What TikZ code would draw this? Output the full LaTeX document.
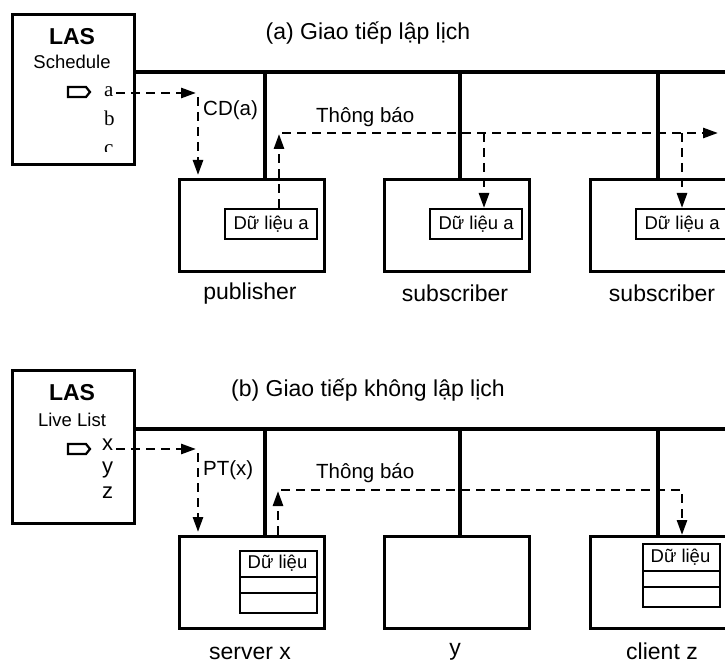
\documentclass[tikz,border=0pt]{standalone}
\usepackage{fontspec}
\setmainfont{Liberation Sans}
\newfontfamily\seriffont{Liberation Serif}
\usetikzlibrary{arrows.meta}
\begin{document}
\begin{tikzpicture}[x=1pt,y=-1pt,
  bigbox/.style={draw, line width=2.8pt, inner sep=0pt, anchor=north west, minimum width=145pt, minimum height=92pt},
  lasbox/.style={draw, line width=2.8pt, inner sep=0pt, anchor=north west, minimum width=122pt},
  databox/.style={draw, line width=2.2pt, inner sep=0pt, anchor=north west, minimum width=92pt, minimum height=30pt, font=\fontsize{18.5}{20}\selectfont},
  tbl/.style={draw, line width=2.2pt, inner sep=0pt, anchor=north west, minimum width=77pt},
  bus/.style={line width=4pt},
  stem/.style={line width=3.8pt},
  dline/.style={line width=2.7pt, dash pattern=on 9pt off 6pt, -{Triangle[length=15pt,width=10pt]}},
  lbl/.style={font=\fontsize{23}{26}\selectfont, inner sep=0pt, anchor=base},
  small/.style={font=\fontsize{20.5}{23}\selectfont, inner sep=0pt},
  tagsh/.style={line width=2.2pt},
]
\useasboundingbox (0,0) rectangle (725,663);
\fill[white] (0,0) rectangle (725,663);

% ===== (a) =====
\node[font=\fontsize{23}{26}\selectfont, inner sep=0pt] (ta) at (368,33) {(a) Giao tiếp lập lịch};
\node[lasbox, minimum height=150pt] (las1) at (11,13) {};
\node[inner sep=0pt, font=\bfseries\fontsize{23}{26}\selectfont] (las1t) at (72,37) {LAS};
\node[inner sep=0pt, font=\fontsize{18.5}{20}\selectfont] (sch) at (72,62) {Schedule};
\draw[tagsh] (68,87) -- (86,87) -- (90,92) -- (86,97) -- (68,97) -- cycle;
\node[inner sep=0pt, anchor=base west, font=\seriffont\fontsize{21}{23}\selectfont] (na) at (104,97) {a};
\node[inner sep=0pt, anchor=base west, font=\seriffont\fontsize{21}{23}\selectfont] (nb) at (104,126) {b};
\begin{scope}
  \clip (90,130) rectangle (130,152);
  \node[inner sep=0pt, anchor=base west, font=\seriffont\fontsize{21}{23}\selectfont] (nc) at (104,155) {c};
\end{scope}

\coordinate (busa0) at (133,72);
\coordinate (busa1) at (730,72);
\draw[bus] (busa0) -- (busa1);

\node[bigbox] (pub) at (178,178) {};
\node[bigbox] (sub1) at (383,178) {};
\node[bigbox] (sub2) at (589,178) {};

\coordinate (va1) at (265,72);
\coordinate (va2) at (460,72);
\coordinate (va3) at (658,72);
\draw[stem] (va1) -- (va1 |- pub.north);
\draw[stem] (va2) -- (va2 |- sub1.north);
\draw[stem] (va3) -- (va3 |- sub2.north);

\node[databox] (d1) at (224,208) {Dữ liệu a};
\node[databox] (d2) at (429,208) {Dữ liệu a};
\node[databox] (d3) at (635,208) {Dữ liệu a};

\node[lbl] (lpub) at (250,299) {publisher};
\node[lbl] (lsub1) at (455,301) {subscriber};
\node[lbl] (lsub2) at (662,301) {subscriber};

% CD(a) request
\coordinate (ca1) at (116,93);
\coordinate (ca2) at (196,93);
\draw[dline] (ca1) -- (ca2);
\coordinate (ca3) at (198,97);
\coordinate (ca4) at (198,175);
\draw[dline] (ca3) -- (ca4);
\node[small, anchor=west] (cd) at (203,110) {CD(a)};

% Thong bao (a)
\coordinate (ua) at (279,134);
\draw[dline] (d1.north -| ua) -- (ua);
\coordinate (ha0) at (282,133);
\coordinate (ha1) at (718,133);
\draw[dline] (ha0) -- (ha1);
\coordinate (ba2) at (484,133);
\coordinate (ba3) at (682,133);
\draw[dline] (ba2) -- (ba2 |- d2.north);
\draw[dline] (ba3) -- (ba3 |- d3.north);
\node[small, anchor=west] (tba) at (316,117) {Thông báo};

% ===== (b) =====
\node[font=\fontsize{23}{26}\selectfont, inner sep=0pt] (tb) at (368,390) {(b) Giao tiếp không lập lịch};
\node[lasbox, minimum height=153pt] (las2) at (11,369) {};
\node[inner sep=0pt, font=\bfseries\fontsize{23}{26}\selectfont] (las2t) at (72,393) {LAS};
\node[inner sep=0pt, font=\fontsize{18.5}{20}\selectfont] (live) at (72,420) {Live List};
\draw[tagsh] (68,444) -- (86,444) -- (90,449) -- (86,454) -- (68,454) -- cycle;
\node[inner sep=0pt, anchor=base west, font=\fontsize{22}{24}\selectfont] (nx) at (102,450) {x};
\node[inner sep=0pt, anchor=base west, font=\fontsize{22}{24}\selectfont] (ny) at (102,473) {y};
\node[inner sep=0pt, anchor=base west, font=\fontsize{22}{24}\selectfont] (nz) at (102,498) {z};

\coordinate (busb0) at (133,429);
\coordinate (busb1) at (730,429);
\draw[bus] (busb0) -- (busb1);

\node[bigbox] (srv) at (178,535) {};
\node[bigbox] (yb) at (383,535) {};
\node[bigbox] (cli) at (589,535) {};

\coordinate (vb1) at (265,429);
\coordinate (vb2) at (460,429);
\coordinate (vb3) at (658,429);
\draw[stem] (vb1) -- (vb1 |- srv.north);
\draw[stem] (vb2) -- (vb2 |- yb.north);
\draw[stem] (vb3) -- (vb3 |- cli.north);

% tables
\node[tbl, minimum height=62pt] (t1) at (239,550) {};
\draw[line width=2.2pt] (t1.west |- 0,577) -- (t1.east |- 0,577);
\draw[line width=2.2pt] (t1.west |- 0,593) -- (t1.east |- 0,593);
\node[inner sep=0pt, font=\fontsize{18.5}{20}\selectfont] (t1t) at (277.5,563.5) {Dữ liệu};

\node[tbl, minimum height=63pt] (t2) at (642,543) {};
\draw[line width=2.2pt] (t2.west |- 0,571) -- (t2.east |- 0,571);
\draw[line width=2.2pt] (t2.west |- 0,587) -- (t2.east |- 0,587);
\node[inner sep=0pt, font=\fontsize{18.5}{20}\selectfont] (t2t) at (680.5,557) {Dữ liệu};

\node[lbl] (lsrv) at (250,659) {server x};
\node[lbl] (ly) at (455,655) {y};
\node[lbl] (lcli) at (662,659) {client z};

% PT(x) request
\coordinate (cb1) at (116,449);
\coordinate (cb2) at (196,449);
\draw[dline] (cb1) -- (cb2);
\coordinate (cb3) at (198,453);
\coordinate (cb4) at (198,532);
\draw[dline] (cb3) -- (cb4);
\node[small, anchor=west] (pt) at (203,470) {PT(x)};

% Thong bao (b)
\coordinate (ub) at (278,491);
\draw[dline] (srv.north -| ub) -- (ub);
\coordinate (hb0) at (281,490);
\coordinate (hb1) at (682,490);
\draw[dline] (hb0) -- (hb1) -- (hb1 |- cli.north);
\node[small, anchor=west] (tbb) at (316,473) {Thông báo};
\end{tikzpicture}
\end{document}
